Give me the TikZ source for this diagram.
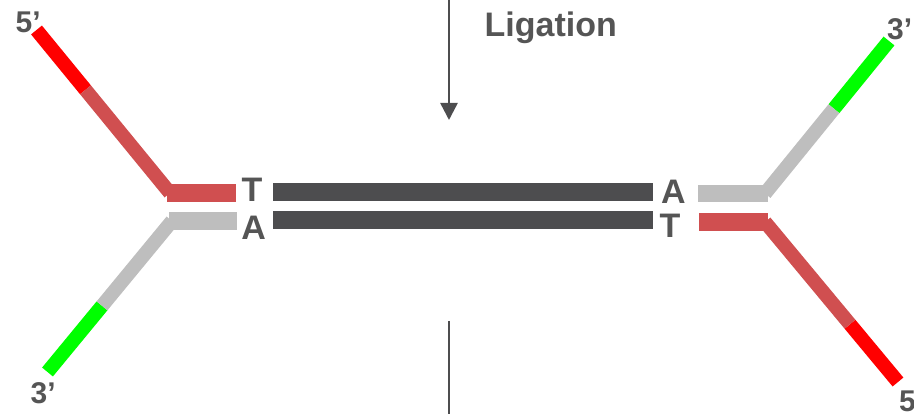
\documentclass[tikz,border=0pt]{standalone}
\usepackage{fontspec}
\setmainfont{Liberation Sans}
\usetikzlibrary{positioning,calc,arrows.meta}

\definecolor{brightred}{HTML}{FF0000}
\definecolor{darkred}{HTML}{D04F50}
\definecolor{lightgrey}{HTML}{BEBEBE}
\definecolor{brightgreen}{HTML}{00FF00}
\definecolor{charcoal}{HTML}{4D4D4F}
\definecolor{labelgrey}{HTML}{555555}

\begin{document}
\begin{tikzpicture}[x=1pt, y=-1pt,
    armline/.style={line width=14pt},
    stemline/.style={line width=17.5pt},
    duplexline/.style={line width=18pt, draw=charcoal},
    basenode/.style={inner sep=0, font=\fontsize{34}{40}\selectfont\bfseries, anchor=base},
    endnode/.style={inner sep=0, font=\fontsize{30}{36}\selectfont\bfseries, anchor=base west},
    ]
    \tikzstyle{every node}=[text=labelgrey]
    \useasboundingbox (0,0) rectangle (914,414);
    \clip (0,0) rectangle (914,414);

    %Coordinates
    \coordinate (ltopend)  at (36.5,30);
    \coordinate (ltopknee) at (170,193);
    \coordinate (ltopcut)  at ($(ltopend)!0.367!(ltopknee)$);
    \coordinate (ltopstub) at (236,193);
    \coordinate (lbotend)  at (47.5,372);
    \coordinate (lbotknee) at (172,221);
    \coordinate (lbotcut)  at ($(lbotend)!0.438!(lbotknee)$);
    \coordinate (lbotstub) at (237,221);
    \coordinate (rtopend)  at (889,41);
    \coordinate (rtopknee) at (765,193.5);
    \coordinate (rtopcut)  at ($(rtopend)!0.444!(rtopknee)$);
    \coordinate (rtopstub) at (698,193.5);
    \coordinate (rbotend)  at (898,382);
    \coordinate (rbotknee) at (765,222);
    \coordinate (rbotcut)  at ($(rbotend)!0.361!(rbotknee)$);
    \coordinate (rbotstub) at (699,222);
    \coordinate (upperstart) at (273,191.7);
    \coordinate (upperend)   at (653,191.7);
    \coordinate (lowerstart) at (273,220.5);
    \coordinate (lowerend)   at (653,220.5);
    \coordinate (arrowtop)   at (449,-2);
    \coordinate (arrowtip)   at (449,120);
    \coordinate (stemtop)    at (449,321);
    \coordinate (stembottom) at (449,416);

    %Nodes
    \node[basenode] (ltbase) at (252,202)   {T};
    \node[basenode] (labase) at (253.7,240) {A};
    \node[basenode] (rabase) at (673.5,204) {A};
    \node[basenode] (rtbase) at (670,238)   {T};
    \node[endnode]  (lfive)  at (15.5,33) {5’};
    \node[endnode]  (lthree) at (30.5,403) {3’};
    \node[endnode]  (rthree) at (887,40)  {3’};
    \node[endnode]  (rfive)  at (899,411) {5’};
    \node[inner sep=0, anchor=base west, font=\fontsize{34}{40}\selectfont\bfseries] (ligation) at (484.5,37) {Ligation};

    %Lines
    % left adapter
    \draw[armline, brightred] (ltopend) -- (ltopcut);
    \draw[armline, darkred] (ltopcut) -- (ltopknee);
    \draw[stemline, darkred] ($(ltopknee)+(-3,0)$) -- (ltopstub);
    \draw[armline, brightgreen] (lbotend) -- (lbotcut);
    \draw[armline, lightgrey] (lbotcut) -- (lbotknee);
    \draw[stemline, lightgrey] ($(lbotknee)+(-3,0)$) -- (lbotstub);
    % right adapter
    \draw[armline, brightgreen] (rtopend) -- (rtopcut);
    \draw[armline, lightgrey] (rtopcut) -- (rtopknee);
    \draw[stemline, lightgrey] ($(rtopknee)+(3,0)$) -- (rtopstub);
    \draw[armline, brightred] (rbotend) -- (rbotcut);
    \draw[armline, darkred] (rbotcut) -- (rbotknee);
    \draw[stemline, darkred] ($(rbotknee)+(3,0)$) -- (rbotstub);
    % insert
    \draw[duplexline] (upperstart) -- (upperend);
    \draw[duplexline] (lowerstart) -- (lowerend);
    % ligation step
    \draw[line width=2.5pt, draw=charcoal, -{Triangle[width=17pt,length=17pt]}] (arrowtop) -- (arrowtip);
    \draw[line width=2.5pt, draw=charcoal] (stemtop) -- (stembottom);

\end{tikzpicture}
\end{document}
